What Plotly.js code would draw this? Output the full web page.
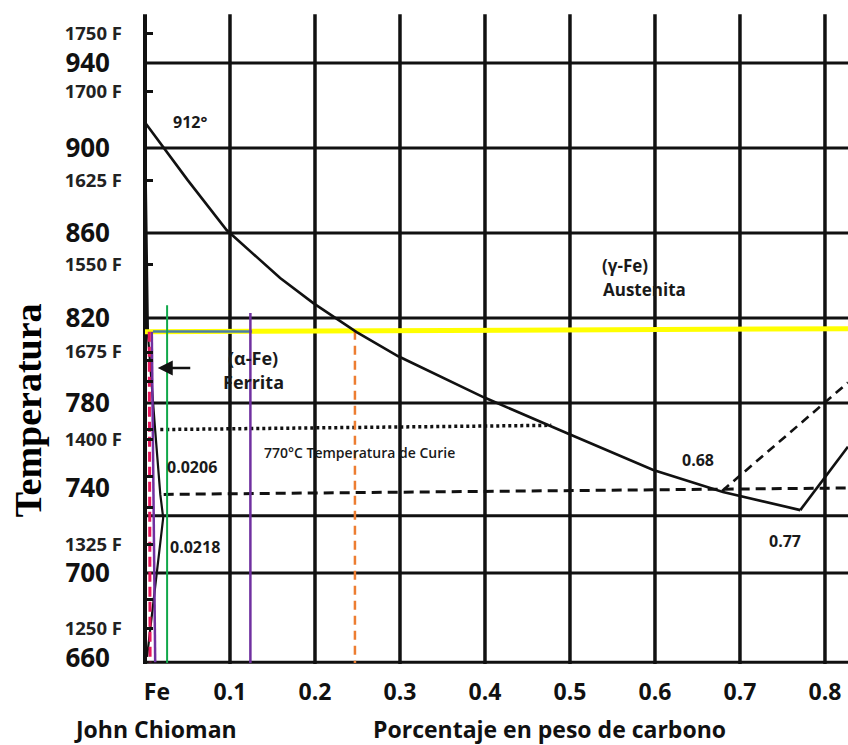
<!DOCTYPE html>
<html>
<head>
<meta charset="utf-8">
<script src="https://cdn.plot.ly/plotly-3.0.1.min.js"></script>
<style>html,body{margin:0;padding:0;background:#fff;}</style>
</head>
<body>
<div id="chart" style="width:848px;height:745px;"></div>
<script>
// ---- Data ----
// x: weight percent carbon, y: temperature in °C
const xTickVals = [0.014, 0.1, 0.2, 0.3, 0.4, 0.5, 0.6, 0.7, 0.8];
const xTickText = ['Fe', '0.1', '0.2', '0.3', '0.4', '0.5', '0.6', '0.7', '0.8'];
const celsiusTicks = [940, 900, 860, 820, 780, 740, 700, 660];
const celsiusText = ['940', '900', '860', '820', '780', '740', '700', '660'];
const fahrenheitTicks = [954, 926.4, 884.9, 845, 804, 762.6, 713.2, 674.1];
const fahrenheitText = ['1750 F', '1700 F', '1625 F', '1550 F', '1675 F', '1400 F', '1325 F', '1250 F'];
const ladderTicks = [800.2, 789.9, 767.3, 745.2, 730.6, 687.3];
const vGrid = [0.1, 0.2, 0.3, 0.4, 0.5, 0.6, 0.7, 0.8];
const hGrid = [940, 900, 860, 820, 780, 727, 700, 658];

// gamma / (alpha+gamma) boundary (A3)
const a3X = [0, 0.05, 0.096, 0.159, 0.198, 0.249, 0.298, 0.398, 0.496, 0.598, 0.68, 0.771];
const a3T = [912, 885, 861.4, 838.8, 827, 813.4, 802, 782.8, 765.9, 748.5, 738.1, 729.6];
// Acm rising branch after 0.77
const acmX = [0.771, 0.827];
const acmT = [729.6, 759.4];
// dashed branch from 0.68
const dashBranchX = [0.679, 0.827];
const dashBranchT = [738.6, 789.6];
// alpha boundary near pure Fe
const alphaX = [0, 0.0035, 0.012, 0.018, 0.0214, 0.0024];
const alphaT = [912, 812, 767, 737, 726, 660.5];
// dashed line about 740 °C
const dashedHX = [0.022, 0.827];
const dashedHT = [737, 740];
// dotted Curie line 770 °C
const curieX = [0.018, 0.478];
const curieT = [767.5, 769.5];
// coloured construction lines
const yellowX = [0, 0.827];
const yellowT = [813.5, 815];
const tealX = [0.0094, 0.126];
const tealT = [813.7, 813.7];
const purpleX = [0.124, 0.124];
const purpleT = [822.4, 657.6];
const purpleFeX = [0.008, 0.012];
const purpleFeT = [813.5, 658];
const greenX = [0.026, 0.026];
const greenT = [826, 657.6];
const redX = [0.005, 0.006];
const redT = [813.5, 658];
const orangeX = [0.247, 0.247];
const orangeT = [814, 657.6];

// ---- Chart ----
const FONT = 'Open Sans, Noto Sans, sans-serif';
const xRange = [-0.00235, 0.8271];
const yRange = [657.18, 964.94];

function line(x, y, color, width, dash, axis) {
  return {x: x, y: y, type: 'scatter', mode: 'lines', hoverinfo: 'skip',
          yaxis: axis || 'y',
          line: {color: color, width: width, dash: dash || 'solid'}};
}

const traces = [
  line(a3X, a3T, '#111', 2.6, 'solid', 'y2'),
  line(acmX, acmT, '#111', 2.6),
  line(dashBranchX, dashBranchT, '#111', 2.6, '9px,6px'),
  line(alphaX, alphaT, '#111', 2.2),
  line(dashedHX, dashedHT, '#111', 3, '10px,6px'),
  line(curieX, curieT, '#111', 3.5, '3px,3px'),
  line(yellowX, yellowT, '#ffff00', 5),
  line(tealX, tealT, '#4a7ea8', 2.5),
  line(purpleX, purpleT, '#7030a0', 2.5),
  line(purpleFeX, purpleFeT, '#7030a0', 2.5),
  line(greenX, greenT, '#10a84a', 2),
  line(redX, redT, '#e8175d', 3, '10px,5px'),
  line(orangeX, orangeT, '#ed7d31', 2.5, '9px,6px')
];

const shapes = [];
vGrid.forEach(v => shapes.push({type: 'line', xref: 'x', yref: 'y', x0: v, x1: v,
  y0: yRange[0], y1: yRange[1] - 2, line: {color: '#111', width: 3.5}, layer: 'below'}));
hGrid.forEach(h => shapes.push({type: 'line', xref: 'x', yref: 'y', x0: 0.002, x1: xRange[1],
  y0: h, y1: h, line: {color: '#111', width: 3}, layer: 'below'}));
shapes.push({type: 'line', xref: 'x', yref: 'y', x0: 0, x1: 0, y0: yRange[0], y1: yRange[1] - 2,
  line: {color: '#111', width: 4}, layer: 'below'});

const lab = (x, y, text, size, weight) => ({x: x, y: y, xref: 'x', yref: 'y', text: text,
  xanchor: 'center', yanchor: 'middle',
  showarrow: false, font: {family: FONT, size: size, color: '#1a1a1a', weight: weight || 'bold'}});

const annotations = [
  lab(0.053, 912.2, '912°', 16),
  lab(0.565, 844.9, '(γ-Fe)', 17),
  lab(0.588, 833.2, 'Austenita', 17),
  lab(0.127, 801.2, '(α-Fe)', 18),
  lab(0.128, 789.9, 'Ferrita', 18),
  lab(0.0553, 749.9, '0.0206', 16),
  lab(0.0588, 712.2, '0.0218', 16),
  lab(0.6506, 753.2, '0.68', 16),
  lab(0.7529, 715.1, '0.77', 16),
  lab(0.2529, 756.9, '770°C Temperatura de Curie', 14, '600'),
  {x: 0.015, y: 796.5, ax: 0.055, ay: 796.5, axref: 'x', ayref: 'y', xref: 'x', yref: 'y',
   text: '', showarrow: true, arrowhead: 2, arrowsize: 1.2, arrowwidth: 2.5, arrowcolor: '#111'},
  {x: -0.163, y: 0.388, xref: 'paper', yref: 'paper', text: 'Temperatura', textangle: -90,
   xanchor: 'center', yanchor: 'middle', showarrow: false,
   font: {family: 'Liberation Serif, Times New Roman, serif', size: 38, color: '#000', weight: 'bold'}},
  {x: 0.0184, y: -0.0994, xref: 'paper', yref: 'paper', text: 'John Chioman', showarrow: false,
   xanchor: 'center', yanchor: 'middle',
   font: {family: FONT, size: 23, color: '#111', weight: 'bold'}},
  {x: 0.577, y: -0.0994, xref: 'paper', yref: 'paper', text: 'Porcentaje en peso de carbono', showarrow: false,
   xanchor: 'center', yanchor: 'middle',
   font: {family: FONT, size: 23, color: '#111', weight: 'bold'}}
];

const fVals = fahrenheitTicks.concat(ladderTicks);
const fText = fahrenheitText.concat(ladderTicks.map(() => ''));

const layout = {
  width: 848, height: 745,
  margin: {l: 143, r: 0, t: 10, b: 81, pad: 0},
  paper_bgcolor: '#fff', plot_bgcolor: '#fff',
  showlegend: false,
  xaxis: {range: xRange, tickvals: xTickVals, ticktext: xTickText, showgrid: false,
          zeroline: false, showline: false, ticks: '', ticklabelstandoff: 12,
          tickfont: {family: FONT, size: 23, color: '#111', weight: 'bold'}, fixedrange: true},
  yaxis: {range: yRange, tickvals: fVals, ticktext: fText, showgrid: false, zeroline: false,
          showline: false, ticks: 'inside', ticklen: 10, tickwidth: 3, tickcolor: '#111',
          ticklabelstandoff: 20,
          tickfont: {family: FONT, size: 18.5, color: '#222', weight: 'bold'}, fixedrange: true},
  yaxis2: {range: yRange, overlaying: 'y', side: 'left', tickvals: celsiusTicks, ticktext: celsiusText,
           showgrid: false, zeroline: false, showline: false, ticks: '', ticklabelstandoff: 32,
           tickfont: {family: FONT, size: 26, color: '#111', weight: 'bold'}, fixedrange: true},
  shapes: shapes,
  annotations: annotations
};

Plotly.newPlot('chart', traces, layout, {displayModeBar: false, staticPlot: true});
</script>
</body>
</html>
